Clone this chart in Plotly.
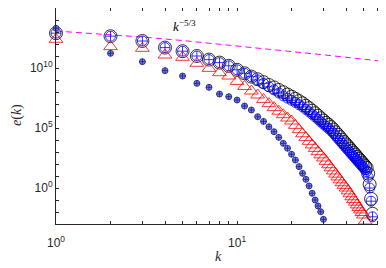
import numpy as np
import plotly.graph_objects as go

# wavenumbers
k_big = list(range(1, 57))
k_red = list(range(1, 52))
k_small = list(range(1, 31))

# log10 of spectra
logA = [12.9, 12.65, 12.25, 11.7, 11.4, 11.0, 10.7, 10.45, 10.18, 9.85,
        9.56, 9.28, 9.06, 8.82, 8.58, 8.38, 8.17, 7.98, 7.79, 7.61,
        7.43, 7.24, 7.06, 6.85, 6.65, 6.44, 6.23, 6.02, 5.81, 5.62,
        5.43, 5.26, 5.08, 4.87, 4.65, 4.44, 4.24, 4.03, 3.83, 3.64,
        3.47, 3.28, 3.1, 2.93, 2.77, 2.59, 2.43, 2.28, 2.12, 1.97,
        1.82, 1.67, 1.2, 0.3, -0.9, -2.15]
logB = [12.9, 12.65, 12.25, 11.7, 11.4, 11.0, 10.7, 10.45, 10.18, 9.85,
        9.56, 9.28, 9.01, 8.72, 8.43, 8.18, 7.92, 7.68, 7.49, 7.31,
        7.13, 6.94, 6.76, 6.55, 6.35, 6.14, 5.93, 5.72, 5.51, 5.32,
        5.13, 4.96, 4.78, 4.57, 4.35, 4.14, 3.94, 3.73, 3.53, 3.34,
        3.17, 2.98, 2.8, 2.63, 2.47, 2.29, 2.13, 1.98, 1.82, 1.67,
        1.52, 1.37, 0.9, 0.0, -1.1, -2.4]
logC = [12.39, 11.78, 11.64, 11.08, 10.89, 10.39, 9.97, 9.61, 9.33, 8.88,
        8.46, 8.08, 7.75, 7.38, 7.03, 6.7, 6.4, 6.11, 5.83, 5.58,
        5.22, 4.86, 4.52, 4.2, 3.89, 3.59, 3.3, 3.03, 2.76, 2.5,
        2.22, 1.94, 1.68, 1.42, 1.16, 0.92, 0.68, 0.44, 0.22, 0.0,
        -0.24, -0.48, -0.73, -0.96, -1.18, -1.41, -1.63, -1.83, -2.04, -2.25,
        -2.75]
logD = [13.31, 11.22, 10.53, 9.78, 9.33, 8.72, 8.39, 7.83, 7.61, 7.33,
        6.83, 6.5, 5.94, 5.55, 5.1, 4.69, 4.22, 3.72, 3.31, 2.81,
        2.33, 1.78, 1.22, 0.72, 0.17, -0.44, -1.0, -1.5, -1.98, -2.61]

# reference slope line
k_line = [1, 2, 3, 5, 10, 20, 30, 45, 64]
log_line = [13.08, 12.79, 12.58, 12.29, 11.85, 11.38, 11.10, 10.81, 10.56]

x_major = [1, 10]
x_major_text = ["10<sup>0</sup>", "10<sup>1</sup>"]
x_minor = [2, 3, 4, 5, 6, 7, 8, 9, 20, 30, 40, 50, 60]
y_major = [1e0, 1e5, 1e10, 1e15]
y_major_text = ["10<sup>0</sup>", "10<sup>5</sup>", "10<sup>10</sup>", "10<sup>15</sup>"]
y_minor = [10.0 ** d for d in range(-3, 16) if d % 5 != 0]

# page has an 8px body margin: figure coordinates = page coordinates - 8
OFF = 8
W, H = 378, 260
L, R, T, B = 48, 3, 0, 44

def p10(v):
    return [10.0 ** x for x in v]

fig = go.Figure()
fig.add_trace(go.Scatter(x=k_line, y=p10(log_line), mode="lines",
                         line=dict(color="#ff00ff", width=1, dash="6px,4px"),
                         showlegend=False, cliponaxis=False))
fig.add_trace(go.Scatter(x=k_big, y=p10(logA), mode="markers",
                         marker=dict(symbol="circle-open", size=13, color="black",
                                     line=dict(width=0.8, color="black")),
                         showlegend=False, cliponaxis=False))
fig.add_trace(go.Scatter(x=k_big, y=p10(logB), mode="markers",
                         marker=dict(symbol="circle-cross-open", size=10, color="#0000ff",
                                     line=dict(width=0.8, color="#0000ff")),
                         showlegend=False, cliponaxis=False))
fig.add_trace(go.Scatter(x=k_red, y=p10(logC), mode="markers",
                         marker=dict(symbol="triangle-up-open", size=12, color="#ff0000",
                                     line=dict(width=0.8, color="#ff0000")),
                         showlegend=False, cliponaxis=False))
fig.add_trace(go.Scatter(x=k_small, y=p10(logD), mode="markers",
                         marker=dict(symbol="circle-cross", size=6, color="#7080ff",
                                     line=dict(width=0.8, color="#1a1a70")),
                         showlegend=False, cliponaxis=False))

pw, ph = W - L - R, H - T - B
def px(xp):
    return (xp - OFF - L) / pw
def py(yp):
    return 1 - (yp - OFF - T) / ph

fig.add_annotation(x=px(184), y=py(26), xref="paper", yref="paper",
                   xanchor="center", yanchor="middle",
                   text="<i>k</i><sup>−5/3</sup>", showarrow=False,
                   font=dict(family="Liberation Serif", size=13, color="black"))
fig.add_annotation(x=px(218), y=py(257), xref="paper", yref="paper",
                   xanchor="center", yanchor="middle",
                   text="<i>k</i>", showarrow=False,
                   font=dict(family="Liberation Serif", size=14, color="#262626"))
fig.add_annotation(x=px(17), y=py(115), xref="paper", yref="paper",
                   xanchor="center", yanchor="middle",
                   text="<i>e</i>(<i>k</i>)", showarrow=False, textangle=-90,
                   font=dict(family="Liberation Serif", size=14, color="#262626"))

axis_common = dict(type="log", showgrid=False, zeroline=False, showline=True,
                   linecolor="#262626", linewidth=1, mirror="allticks",
                   ticks="inside", ticklen=3, tickcolor="#262626", tickwidth=0.7,
                   automargin=False,
                   tickfont=dict(family="Liberation Sans", size=12, color="#262626"))

fig.update_xaxes(range=[0, np.log10(64)], tickvals=x_major, ticktext=x_major_text,
                 minor=dict(tickvals=x_minor, ticks="inside", ticklen=3,
                            tickcolor="#262626", tickwidth=0.7, showgrid=False),
                 ticklabelstandoff=8, **axis_common)
fig.update_yaxes(range=[-3, 15], tickvals=y_major, ticktext=y_major_text,
                 minor=dict(tickvals=y_minor, ticks="inside", ticklen=3,
                            tickcolor="#262626", tickwidth=0.7, showgrid=False),
                 **axis_common)

fig.update_layout(width=W, height=H, margin=dict(l=L, r=R, t=T, b=B),
                  plot_bgcolor="white", paper_bgcolor="white")

fig.write_html("out.html")
